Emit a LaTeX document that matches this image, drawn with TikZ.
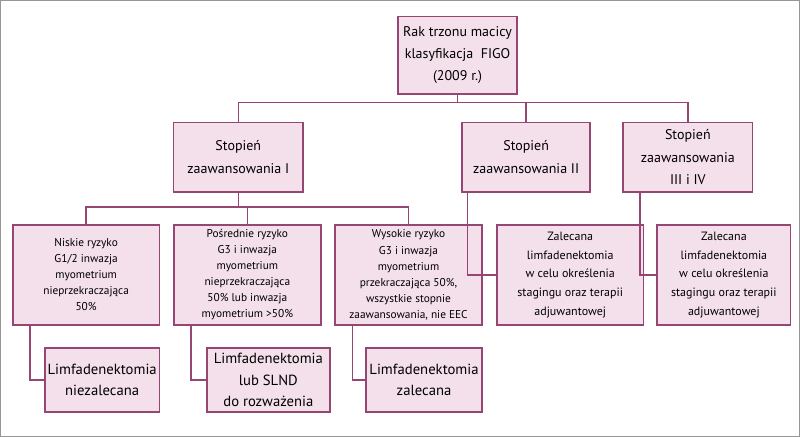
\documentclass[tikz,border=0pt]{standalone}
\usepackage{fontspec}
\setmainfont{PT Sans}
\usepackage{xcolor}
\definecolor{boxline}{RGB}{150,70,115}
\definecolor{boxfill}{RGB}{244,224,234}
\definecolor{frameline}{RGB}{150,150,150}

\begin{document}
\begin{tikzpicture}[x=0.75pt,y=0.75pt,yscale=-1,xscale=1,
  box/.style={draw=boxline,fill=boxfill,line width=1.2pt,align=center,inner sep=2pt},
  link/.style={draw=boxline,line width=1.2pt}]

% frame
\draw[frameline,line width=0.8pt] (1,1) rectangle (799,436);

% top
\node[box,minimum width=89pt,minimum height=58pt,font=\fontsize{10.5}{16.5}\selectfont] (figo) at (457.5,55.5) {Rak trzonu macicy\\klasyfikacja\ \ FIGO\\(2009 r.)};

% stage boxes
\node[box,minimum width=97pt,minimum height=52pt,font=\fontsize{10.5}{17}\selectfont] (st1) at (238.5,157.5) {Stopień\\zaawansowania I};
\node[box,minimum width=96pt,minimum height=52pt,font=\fontsize{10.5}{17}\selectfont] (st2) at (526,157.5) {Stopień\\zaawansowania II};
\node[box,minimum width=97pt,minimum height=52pt,font=\fontsize{10.5}{17}\selectfont] (st3) at (687.5,157.5) {Stopień\\zaawansowania\\III i IV};

% risk boxes
\node[box,minimum width=110pt,minimum height=75pt,font=\fontsize{8.5}{12}\selectfont] (low) at (86.5,275) {Niskie ryzyko\\G1/2 inwazja\\myometrium\\nieprzekraczająca\\50\%};
\node[box,minimum width=110pt,minimum height=75pt,font=\fontsize{8.5}{12}\selectfont] (mid) at (247.5,275) {Pośrednie ryzyko\\G3 i inwazja\\myometrium\\nieprzekraczająca\\50\% lub inwazja\\myometrium >50\%};
\node[box,minimum width=110pt,minimum height=75pt,font=\fontsize{8.5}{12}\selectfont] (high) at (408.5,275) {Wysokie ryzyko\\G3 i inwazja\\myometrium\\przekraczająca 50\%,\\wszystkie stopnie\\zaawansowania, nie EEC};
\node[box,minimum width=110pt,minimum height=75pt,font=\fontsize{9}{14}\selectfont] (rec2) at (570,275) {Zalecana\\limfadenektomia\\w celu określenia\\stagingu oraz terapii\\adjuwantowej};
\node[box,minimum width=100pt,minimum height=75pt,font=\fontsize{9}{14}\selectfont] (rec3) at (723.5,275) {Zalecana\\limfadenektomia\\w celu określenia\\stagingu oraz terapii\\adjuwantowej};

% outcome boxes
\node[box,minimum width=86pt,minimum height=48pt,font=\fontsize{11}{16}\selectfont] (out1) at (102.5,380) {Limfadenektomia\\niezalecana};
\node[box,minimum width=92pt,minimum height=48pt,font=\fontsize{11}{16}\selectfont] (out2) at (268.5,380) {Limfadenektomia\\lub SLND\\do rozważenia};
\node[box,minimum width=87pt,minimum height=48pt,font=\fontsize{11}{16}\selectfont] (out3) at (424,380) {Limfadenektomia\\zalecana};

% buses
\coordinate (busA) at (457.5,103);
\coordinate (busB) at (238.5,207);
\draw[link] (figo.south) -- (busA);
\draw[link] (st1.north) |- (busA) -| (st3.north);
\draw[link] (busA) -| (st2.north);
\draw[link] (st1.south) -- (busB);
\draw[link] (low.north) |- (busB) -| (high.north);
\draw[link] (busB) -| (mid.north);

% side links
\draw[link] ([xshift=-44pt]st2.south) |- (rec2.west);
\draw[link] ([xshift=-36pt]st3.south) |- (rec3.west);
\draw[link] ([xshift=-42pt]low.south) |- (out1.west);
\draw[link] ([xshift=-42pt]mid.south) |- (out2.west);
\draw[link] ([xshift=-42pt]high.south) |- (out3.west);
\end{tikzpicture}
\end{document}
